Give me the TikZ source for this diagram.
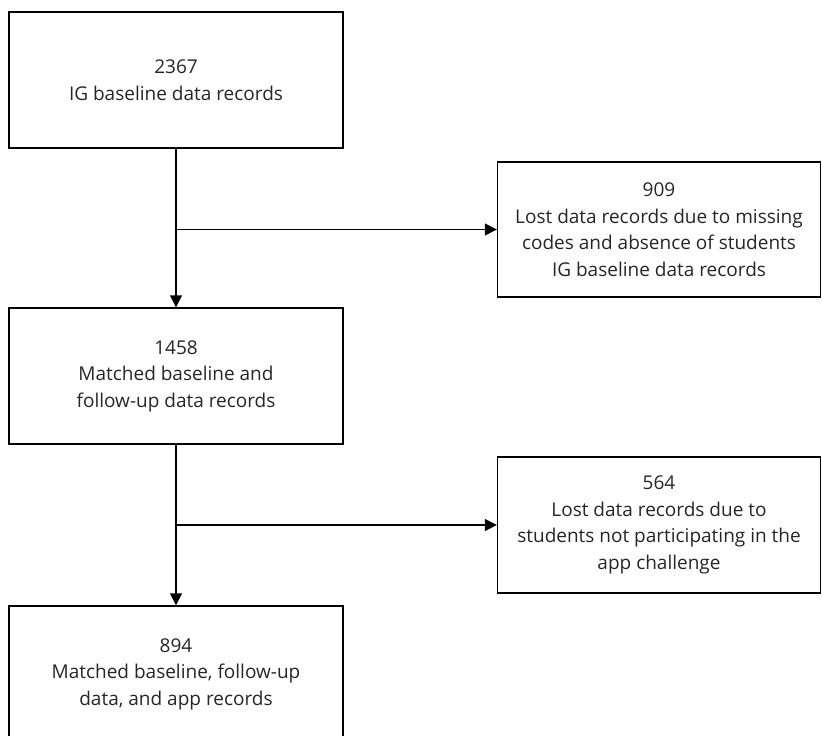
\documentclass[tikz,border=0pt]{standalone}
\usepackage{fontspec}
\setmainfont{Open Sans}
\usetikzlibrary{arrows.meta}
\begin{document}
\begin{tikzpicture}[x=1pt,y=-1pt,
  box/.style={draw=black, line width=1.4pt, rectangle, align=center, inner sep=0pt,
    font=\fontsize{19}{26.5}\selectfont, text=black!85},
  link/.style={draw=black, line width=1.4pt, -{Triangle[length=12pt,width=12pt]}}]
\useasboundingbox (0,0) rectangle (822,736);
\node[box, minimum width=334pt, minimum height=136pt] (b1) at (176,80) {2367\\IG baseline data records};
\node[box, minimum width=323pt, minimum height=135pt] (b2) at (659,229.5) {909\\Lost data records due to missing\\codes and absence of students\\IG baseline data records};
\node[box, minimum width=334pt, minimum height=136pt] (b3) at (176,376) {1458\\Matched baseline and\\follow-up data records};
\node[box, minimum width=323pt, minimum height=136pt] (b4) at (659,525) {564\\Lost data records due to\\students not participating in the\\app challenge};
\node[box, minimum width=334pt, minimum height=136pt] (b5) at (176,674) {894\\Matched baseline, follow-up\\data, and app records};
\coordinate (j1) at (b1.south |- b2.west);
\coordinate (j2) at (b3.south |- b4.west);
\draw[link] (b1.south) -- (b3.north);
\draw[link] (j1) -- (b2.west);
\draw[link] (b3.south) -- (b5.north);
\draw[link] (j2) -- (b4.west);
\end{tikzpicture}
\end{document}
